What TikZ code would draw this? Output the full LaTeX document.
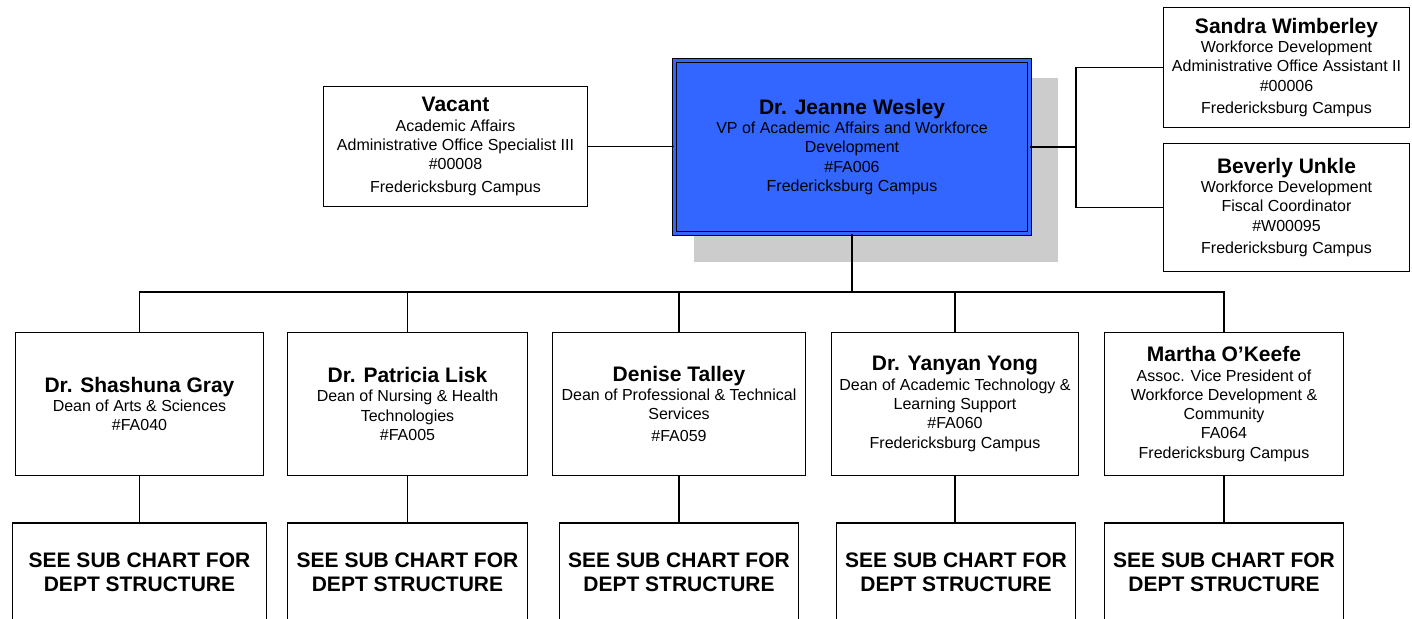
\documentclass[tikz,border=0pt]{standalone}
\usepackage{fontspec}
\setmainfont{Liberation Sans}
\definecolor{vpblue}{HTML}{3366FF}
\definecolor{shadowgray}{HTML}{CCCCCC}
\newcommand{\nm}[1]{{\fontsize{21}{24}\selectfont\bfseries #1}}

\begin{document}
\begin{tikzpicture}[x=1pt,y=-1pt,
  box/.style={draw,fill=white,line width=1.3pt,align=center,inner sep=2pt,font=\fontsize{16}{19.3}\selectfont},
  sub/.style={box,minimum height=99pt,font=\fontsize{21}{23.5}\selectfont\bfseries},
  link/.style={line width=1.3pt}]
\useasboundingbox (0,0) rectangle (1412,618);
\clip (0,0) rectangle (1412,618);

% top row
\fill[shadowgray] (694,78) rectangle (1058,262);
\node[box, fill=vpblue, double=vpblue, double distance=2.6pt, minimum width=354.8pt, minimum height=172.8pt] (vp) at (852,147)
  {\nm{Dr. Jeanne Wesley}\\ VP of Academic Affairs and Workforce\\ Development\\ \#FA006\\ Fredericksburg Campus};
\node[box, minimum width=264pt, minimum height=120pt] (vacant) at (455.5,146.5)
  {\nm{Vacant}\\ Academic Affairs\\ Administrative Office Specialist III\\ \#00008\\[3pt] Fredericksburg Campus};
\node[box, minimum width=246pt, minimum height=120pt] (sandra) at (1286.5,67.5)
  {\nm{Sandra Wimberley}\\ Workforce Development\\ Administrative Office Assistant II\\ \#00006\\[3pt] Fredericksburg Campus};
\node[box, minimum width=246pt, minimum height=128pt] (beverly) at (1286.5,207.5)
  {\nm{Beverly Unkle}\\ Workforce Development\\ Fiscal Coordinator\\ \#W00095\\[3pt] Fredericksburg Campus};

% deans
\node[box, minimum width=248pt, minimum height=143pt] (d1) at (139.5,404)
  {\nm{Dr. Shashuna Gray}\\ Dean of Arts \& Sciences\\ \#FA040};
\node[box, minimum width=240pt, minimum height=143pt] (d2) at (407.5,404)
  {\nm{Dr. Patricia Lisk}\\ Dean of Nursing \& Health\\ Technologies\\ \#FA005};
\node[box, minimum width=253pt, minimum height=143pt] (d3) at (679,404)
  {\nm{Denise Talley}\\ Dean of Professional \& Technical\\ Services\\[3pt] \#FA059};
\node[box, minimum width=247pt, minimum height=143pt] (d4) at (955,404)
  {\nm{Dr. Yanyan Yong}\\ Dean of Academic Technology \&\\ Learning Support\\ \#FA060\\ Fredericksburg Campus};
\node[box, minimum width=239pt, minimum height=143pt] (d5) at (1224,404)
  {\nm{Martha O’Keefe}\\ Assoc. Vice President of\\ Workforce Development \&\\ Community\\ FA064\\ Fredericksburg Campus};

% sub charts
\node[sub, minimum width=254pt] (s1) at (139.5,572.5) {SEE SUB CHART FOR\\ DEPT STRUCTURE};
\node[sub, minimum width=240pt] (s2) at (407.5,572.5) {SEE SUB CHART FOR\\ DEPT STRUCTURE};
\node[sub, minimum width=239pt] (s3) at (679,572.5) {SEE SUB CHART FOR\\ DEPT STRUCTURE};
\node[sub, minimum width=239pt] (s4) at (956,572.5) {SEE SUB CHART FOR\\ DEPT STRUCTURE};
\node[sub, minimum width=239pt] (s5) at (1224,572.5) {SEE SUB CHART FOR\\ DEPT STRUCTURE};

% connectors
\coordinate (rsplit) at (1076,147);
\coordinate (bus) at (852,292);
\draw[link] (vacant.east) -- (vacant.east -| vp.west);
\draw[link] (vp.east) -- (vp.east -| rsplit);
\draw[link] (sandra.west) -| (rsplit) |- (beverly.west);
\draw[link] (vp.south) -- (bus);
\foreach \i in {1,...,5} {
  \draw[link] (d\i.north) |- (bus);
  \draw[link] (d\i.south) -- (d\i.south |- s\i.north);
}
\end{tikzpicture}
\end{document}
